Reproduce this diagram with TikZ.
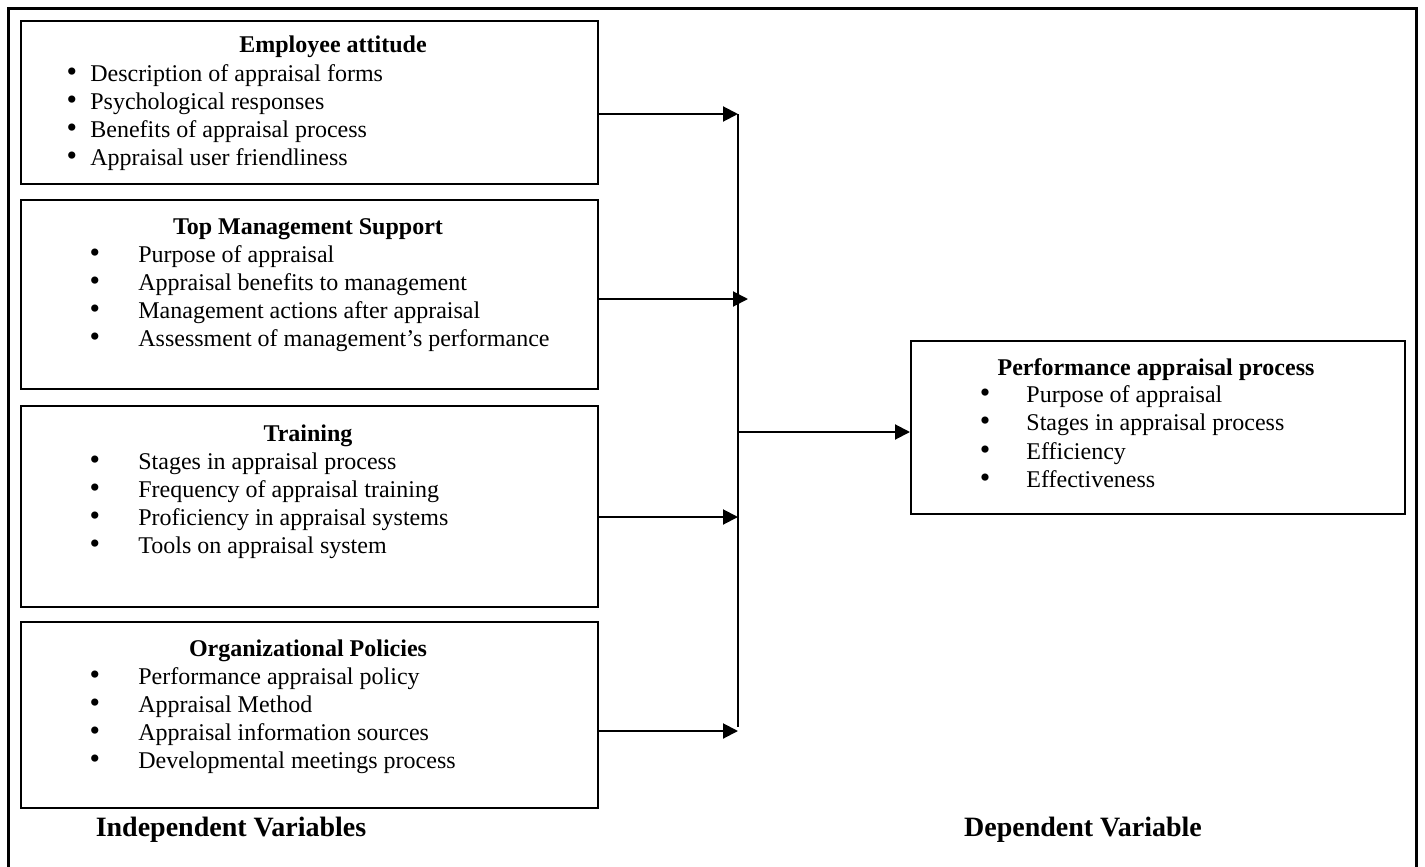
\documentclass[tikz,border=0pt]{standalone}
\usepackage{fontspec}
\setmainfont{Liberation Serif}
\usetikzlibrary{arrows.meta}
\newcommand\bitem[5]{%
  \node[bul] (#1b) at (#2,#4) {•};
  \node[itm] (#1) at (#3,#4) {#5};}
\begin{document}
\begin{tikzpicture}[x=0.5pt,y=-0.5pt,
  box/.style={draw,line width=1pt,inner sep=0pt,anchor=north west},
  ttl/.style={font=\fontsize{12}{13.8}\selectfont\bfseries,anchor=base,inner sep=0pt},
  itm/.style={font=\fontsize{12}{13.8}\selectfont,anchor=base west,inner sep=0pt},
  bul/.style={font=\fontsize{15}{16}\selectfont,anchor=base,inner sep=0pt},
  lbl/.style={font=\fontsize{14}{16}\selectfont\bfseries,anchor=base,inner sep=0pt},
  arr/.style={line width=1pt,-{Triangle[length=7.5pt,width=7.5pt]}},
  conn/.style={line width=1pt}]
\useasboundingbox (0,0) rectangle (1425,867);
\draw[line width=1.5pt] (8,870) -- (8,8) -- (1416,8) -- (1416,870);

% Box 1
\node[box,minimum width=288.5pt,minimum height=81.5pt] (b1) at (20,20) {};
\node[ttl] (b1t) at (333,53) {Employee attitude};
\bitem{b1i1}{72}{90}{81}{Description of appraisal forms}
\bitem{b1i2}{72}{90}{109}{Psychological responses}
\bitem{b1i3}{72}{90}{137}{Benefits of appraisal process}
\bitem{b1i4}{72}{90}{165}{Appraisal user friendliness}

% Box 2
\node[box,minimum width=288.5pt,minimum height=94.5pt] (b2) at (20,199) {};
\node[ttl] (b2t) at (308,234) {Top Management Support};
\bitem{b2i1}{95}{138}{262}{Purpose of appraisal}
\bitem{b2i2}{95}{138}{290}{Appraisal benefits to management}
\bitem{b2i3}{95}{138}{318}{Management actions after appraisal}
\bitem{b2i4}{95}{138}{346}{Assessment of management’s performance}

% Box 3
\node[box,minimum width=288.5pt,minimum height=100.5pt] (b3) at (20,405) {};
\node[ttl] (b3t) at (308,441) {Training};
\bitem{b3i1}{95}{138}{469}{Stages in appraisal process}
\bitem{b3i2}{95}{138}{497}{Frequency of appraisal training}
\bitem{b3i3}{95}{138}{525}{Proficiency in appraisal systems}
\bitem{b3i4}{95}{138}{553}{Tools on appraisal system}

% Box 4
\node[box,minimum width=288.5pt,minimum height=93pt] (b4) at (20,621) {};
\node[ttl] (b4t) at (308,656) {Organizational Policies};
\bitem{b4i1}{95}{138}{684}{Performance appraisal policy}
\bitem{b4i2}{95}{138}{712}{Appraisal Method}
\bitem{b4i3}{95}{138}{740}{Appraisal information sources}
\bitem{b4i4}{95}{138}{768}{Developmental meetings process}

% Right box
\node[box,minimum width=247pt,minimum height=86.5pt] (r) at (910,340) {};
\node[ttl] (rt) at (1156,375) {Performance appraisal process};
\bitem{ri1}{985}{1026}{402}{Purpose of appraisal}
\bitem{ri2}{985}{1026}{430.5}{Stages in appraisal process}
\bitem{ri3}{985}{1026}{459}{Efficiency}
\bitem{ri4}{985}{1026}{487.5}{Effectiveness}

% Labels
\node[lbl] (iv) at (231,836) {Independent Variables};
\node[lbl] (dv) at (1083,836) {Dependent Variable};

% Connectors
\coordinate (vtop) at (738,114);
\coordinate (vbot) at (738,727);
\coordinate (j1) at (738,114);
\coordinate (j2) at (748,299);
\coordinate (j3) at (738,517);
\coordinate (j4) at (738,731);
\coordinate (jm) at (738,432);
\draw[conn] (vtop) -- (vbot);
\draw[arr] (j1 -| b1.east) -- (j1);
\draw[arr] (j2 -| b2.east) -- (j2);
\draw[arr] (j3 -| b3.east) -- (j3);
\draw[arr] (j4 -| b4.east) -- (j4);
\draw[arr] (jm) -- (jm -| r.west);
\end{tikzpicture}
\end{document}
